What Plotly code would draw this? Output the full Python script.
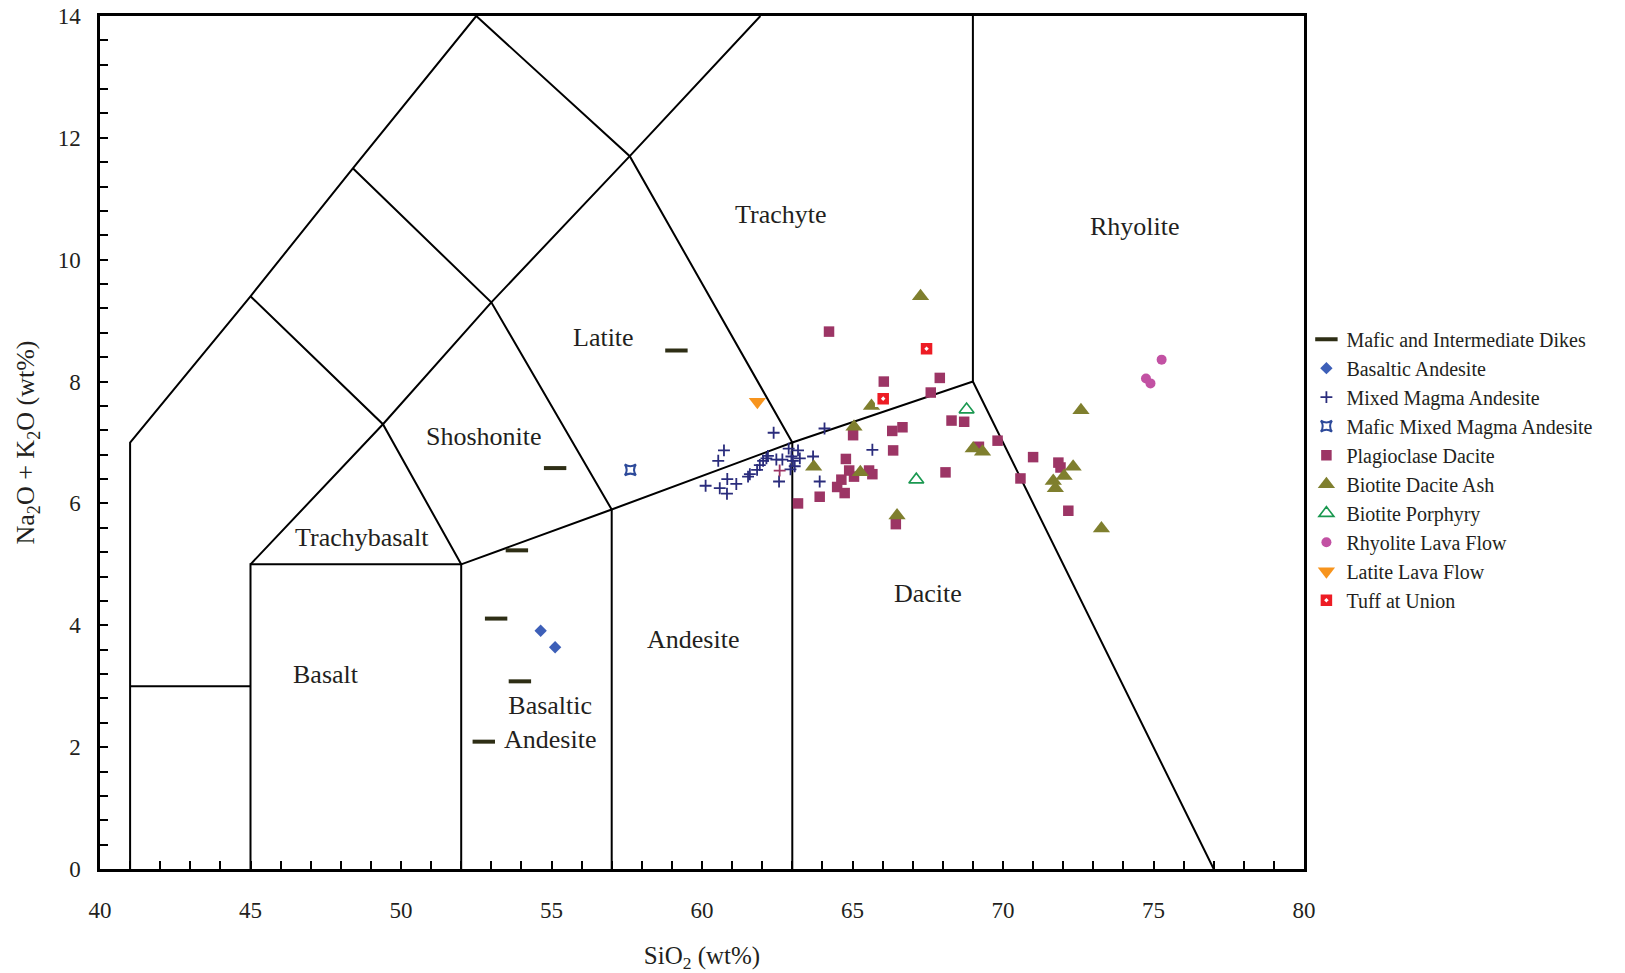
import plotly.graph_objects as go

# ---------------- data ----------------
dikes_x = [59.15, 55.12, 53.85, 53.16, 53.95, 52.75]
dikes_y = [8.51, 6.58, 5.23, 4.11, 3.08, 2.09]

bas_and_x = [54.64, 55.12]
bas_and_y = [3.91, 3.64]

mixed_x = [62.38, 60.73, 60.54, 60.12, 60.59, 60.83, 60.84, 61.14, 61.53, 61.59,
           61.83, 61.92, 62.03, 62.14, 62.19, 62.47, 62.67, 62.56, 62.88, 62.97,
           63.02, 63.19, 63.25, 62.94, 63.08, 63.69, 63.91, 64.07, 65.66]
mixed_y = [7.16, 6.87, 6.70, 6.29, 6.25, 6.16, 6.40, 6.32, 6.44, 6.48,
           6.55, 6.63, 6.70, 6.74, 6.78, 6.72, 6.72, 6.36, 6.90, 6.77,
           6.70, 6.87, 6.74, 6.56, 6.61, 6.77, 6.36, 7.23, 6.88]

mixed_pink_x = [62.58]
mixed_pink_y = [6.54]

mafic_mixed_x = [57.62]
mafic_mixed_y = [6.55]

plag_x = [64.22, 66.04, 67.90, 67.60, 68.29, 68.71, 66.32, 66.66, 65.02, 66.35,
          64.78, 64.89, 65.05, 65.55, 65.66, 64.63, 64.49, 64.74, 63.91, 63.19,
          68.09, 69.20, 69.82, 71.00, 70.58, 71.84, 71.91, 72.17, 66.44]
plag_y = [8.82, 8.00, 8.06, 7.82, 7.36, 7.34, 7.19, 7.25, 7.12, 6.87,
          6.73, 6.54, 6.44, 6.54, 6.48, 6.39, 6.27, 6.17, 6.11, 6.00,
          6.51, 6.93, 7.03, 6.76, 6.41, 6.67, 6.59, 5.88, 5.66]

bda_x = [67.26, 65.63, 65.05, 63.71, 65.26, 69.01, 69.32, 66.48,
         72.59, 72.33, 72.03, 71.67, 71.74, 73.27]
bda_y = [9.40, 7.60, 7.26, 6.60, 6.51, 6.90, 6.85, 5.80,
         7.53, 6.60, 6.45, 6.37, 6.25, 5.59]

bp_x = [68.79, 67.12]
bp_y = [7.54, 6.39]

rhy_x = [75.27, 74.75, 74.90]
rhy_y = [8.36, 8.05, 7.97]

lat_x = [61.84]
lat_y = [7.67]

tuff_x = [67.46, 66.02]
tuff_y = [8.54, 7.72]

# TAS field boundaries (polylines)
boundaries = [
    [(41, 0), (41, 7), (45, 9.4), (48.4, 11.5), (52.5, 14)],
    [(41, 3), (45, 3)],
    [(45, 0), (45, 5), (52, 5), (52, 0)],
    [(45, 5), (49.4, 7.3), (53, 9.3), (57.6, 11.7), (61.94, 14)],
    [(45, 9.4), (49.4, 7.3), (52, 5), (57, 5.9), (63, 7), (69, 8), (77, 0)],
    [(48.4, 11.5), (53, 9.3), (57, 5.9), (57, 0)],
    [(52.5, 14), (57.6, 11.7), (63, 7), (63, 0)],
    [(69, 8), (69, 14)],
]

field_names = ["Trachyte", "Rhyolite", "Latite", "Shoshonite", "Trachybasalt",
               "Basalt", "Basaltic<br>Andesite", "Andesite", "Dacite"]
field_x = [62.6, 74.4, 56.74, 52.75, 48.72, 47.5, 54.95, 59.7, 67.5]
field_y = [10.75, 10.55, 8.73, 7.1, 5.44, 3.19, 2.4, 3.77, 4.52]

x_ticks = [40, 45, 50, 55, 60, 65, 70, 75, 80]
y_ticks = [0, 2, 4, 6, 8, 10, 12, 14]

# ---------------- figure ----------------
TXT = "#231f20"
SERIF = "Liberation Serif, Times New Roman, serif"

fig = go.Figure()

bx, by = [], []
for seg in boundaries:
    for (a, b) in seg:
        bx.append(a)
        by.append(b)
    bx.append(None)
    by.append(None)
fig.add_trace(go.Scatter(x=bx, y=by, mode="lines", line=dict(color="black", width=2),
                         showlegend=False, hoverinfo="skip"))

def add(name, x, y, symbol, color, size, lw=0, lc=None, show=True, group=None):
    fig.add_trace(go.Scatter(
        x=x, y=y, mode="markers", name=name, showlegend=show,
        legendgroup=group or name,
        marker=dict(symbol=symbol, color=color, size=size,
                    line=dict(width=lw, color=lc or color))))

add("Mafic and Intermediate Dikes", dikes_x, dikes_y, "line-ew-open", "#2e2e15", 16, 4)
add("Basaltic Andesite", bas_and_x, bas_and_y, "diamond", "#3d5fb8", 9.5)
add("Mixed Magma Andesite", mixed_x, mixed_y, "cross-thin-open", "#2a2c7c", 8.5, 1.8)
add("", mixed_pink_x, mixed_pink_y, "cross-thin-open", "#9c3565", 8.5, 1.8, show=False, group="pink")
add("Mafic Mixed Magma Andesite", mafic_mixed_x, mafic_mixed_y, "star-square-open", "#2d4a9a", 10, 2)
add("Plagioclase Dacite", plag_x, plag_y, "square", "#9c3565", 10.5)
add("Biotite Dacite Ash", bda_x, bda_y, "triangle-up", "#7f7f2e", 15)
add("Biotite Porphyry", bp_x, bp_y, "triangle-up-open", "#1a9850", 13, 1.6)
add("Rhyolite Lava Flow", rhy_x, rhy_y, "circle", "#c251a3", 10)
add("Latite Lava Flow", lat_x, lat_y, "triangle-down", "#f7941d", 15)
add("Tuff at Union", tuff_x, tuff_y, "square-dot", "#ed1c24", 14, 2.5, "white")

for name, x, y in zip(field_names, field_x, field_y):
    fig.add_annotation(x=x, y=y, text=name, showarrow=False,
                       font=dict(family=SERIF, size=26, color=TXT))

axis_common = dict(showline=True, linecolor="black", linewidth=2.5, mirror=True,
                   ticks="inside", ticklen=8, tickwidth=2, tickcolor="black",
                   showgrid=False, zeroline=False, automargin=False,
                   tickfont=dict(family=SERIF, size=23, color=TXT))

fig.update_xaxes(range=[40, 80], tickmode="array", tickvals=x_ticks,
                 minor=dict(dtick=1, ticks="inside", ticklen=8, tickwidth=2, tickcolor="black"),
                 ticklabelstandoff=19,
                 title=dict(text="SiO<sub>2</sub> (wt%)", font=dict(family=SERIF, size=25, color=TXT),
                            standoff=25),
                 **axis_common)
fig.update_yaxes(range=[0, 14], tickmode="array", tickvals=y_ticks,
                 minor=dict(dtick=0.4, ticks="inside", ticklen=8, tickwidth=2, tickcolor="black"),
                 ticklabelstandoff=12,
                 title=dict(text="Na<sub>2</sub>O + K<sub>2</sub>O (wt%)",
                            font=dict(family=SERIF, size=26, color=TXT), standoff=16),
                 **axis_common)

fig.update_layout(
    width=1625, height=973,
    margin=dict(l=100, r=321, t=16, b=104),
    plot_bgcolor="white", paper_bgcolor="white",
    legend=dict(x=1.002, y=0.644, xanchor="left", yanchor="top",
                font=dict(family=SERIF, size=20, color=TXT),
                tracegroupgap=0, itemsizing="trace", bgcolor="rgba(0,0,0,0)"),
)

# remove the default page-body margin so the figure sits at the window origin
fig.write_html("out.html", config={"displayModeBar": False},
               post_script="document.body.style.margin='0';")
